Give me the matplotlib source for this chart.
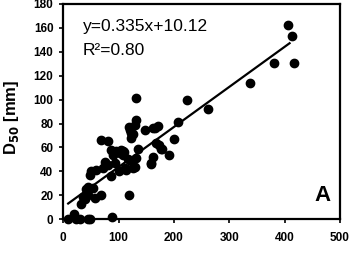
import matplotlib
matplotlib.use('Agg')
import matplotlib.pyplot as plt

d_x = [9, 19, 23, 30, 45, 49, 88, 33, 39, 45, 36, 57, 69, 42, 45, 54,
       48, 51, 60, 69, 81, 72, 75, 81, 87, 90, 87, 93, 96, 102, 105, 108,
       101, 109, 114, 111, 117, 119, 120, 122, 119, 123, 123, 126, 129, 132,
       135, 108, 129, 147, 162, 172, 159, 165, 168, 174, 178, 163, 159, 177,
       192, 201, 132, 132, 208, 224, 262, 338, 380, 406, 414, 417, 126]
d50 = [0, 4, 0, 0, 0, 0, 2, 13, 17, 20, 19, 18, 20, 25, 27, 26,
       37, 40, 41, 66, 65, 43, 48, 45, 58, 54, 36, 47, 57, 55, 58, 54,
       40, 56, 41, 43, 50, 20, 75, 72, 77, 68, 49, 43, 44, 51,
       59, 57, 79, 75, 76, 78, 46, 76, 64, 62, 59, 52, 47, 59,
       54, 67, 83, 101, 81, 100, 92, 114, 131, 162, 153, 131, 71]

slope = 0.335
intercept = 10.12
r2 = 0.80

xticks = [0, 100, 200, 300, 400, 500]
yticks = [0, 20, 40, 60, 80, 100, 120, 140, 160, 180]

plt.rcParams['font.family'] = ['Liberation Sans', 'DejaVu Sans']

fig = plt.figure(figsize=(3.53, 2.61), dpi=100)
ax = fig.add_axes([0.179, 0.16, 0.784, 0.825])

ax.scatter(d_x, d50, s=36, color='black', zorder=3, clip_on=False)
lx = [min(d_x), max(d_x) - 8]
ax.plot(lx, [slope * v + intercept for v in lx], color='black', lw=1.6, zorder=2)

ax.set_xlim(0, 500)
ax.set_ylim(0, 180)
ax.set_xticks(xticks)
ax.set_yticks(yticks)
ax.tick_params(axis='both', direction='out', length=3, width=1.2, labelsize=8.5)
ax.tick_params(axis='x', pad=6)
ax.tick_params(axis='y', pad=4)
for lab in ax.get_xticklabels() + ax.get_yticklabels():
    lab.set_fontweight('bold')
for sp in ax.spines.values():
    sp.set_linewidth(1.6)

ax.text(0.07, 0.93, 'y=%.3fx+%.2f' % (slope, intercept), transform=ax.transAxes,
        fontsize=12.5, va='top', ha='left')
ax.text(0.07, 0.82, 'R²=%.2f' % r2, transform=ax.transAxes,
        fontsize=12.5, va='top', ha='left')
ax.text(0.965, 0.06, 'A', transform=ax.transAxes, fontsize=16,
        fontweight='bold', ha='right', va='bottom')

fig.text(0.032, 0.55, 'D$_{\\mathbf{50}}$ [mm]', rotation=90, fontsize=12,
         fontweight='bold', ha='center', va='center')

fig.savefig('out.png', dpi=100)
